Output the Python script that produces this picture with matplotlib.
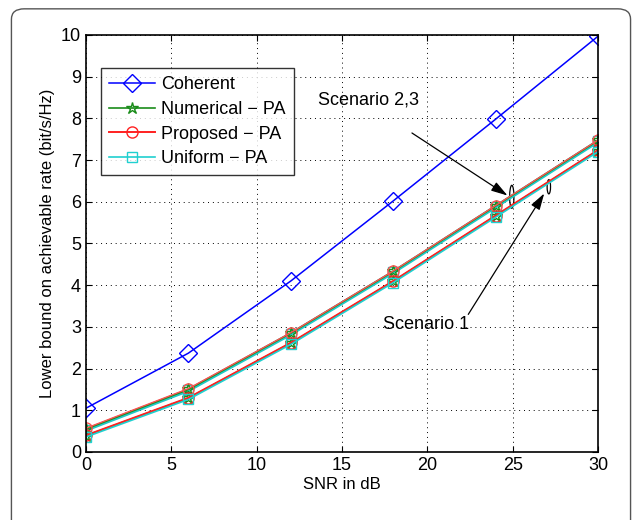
import matplotlib.pyplot as plt
from matplotlib.patches import Ellipse, FancyBboxPatch

plt.rcParams['font.family'] = ['Liberation Sans', 'DejaVu Sans']

snr = [0, 6, 12, 18, 24, 30]
coherent = [1.05, 2.37, 4.10, 6.02, 7.98, 9.97]

# Scenario 2,3 (upper group)
num_s23 = [0.55, 1.50, 2.85, 4.33, 5.90, 7.47]
prop_s23 = [0.57, 1.52, 2.86, 4.34, 5.91, 7.48]
unif_s23 = [0.53, 1.48, 2.83, 4.31, 5.88, 7.45]
# Scenario 1 (lower group)
num_s1 = [0.39, 1.29, 2.61, 4.09, 5.66, 7.23]
prop_s1 = [0.40, 1.30, 2.62, 4.10, 5.67, 7.24]
unif_s1 = [0.36, 1.26, 2.58, 4.06, 5.63, 7.20]

fig = plt.figure(figsize=(6.35, 5.2), dpi=100)
ax = fig.add_axes([0.1354, 0.1308, 0.8063, 0.8019])

frame = FancyBboxPatch((0.018, -0.03), 0.975, 1.013, boxstyle="round,pad=0,rounding_size=0.02",
                       transform=fig.transFigure, facecolor='none', edgecolor='#555555',
                       linewidth=1.0, clip_on=False)
fig.patches.append(frame)

ax.plot(snr, coherent, color='blue', marker='D', markersize=9, markerfacecolor='none',
        markeredgecolor='blue', linewidth=1.1, label='Coherent')

# upper group (scenario 2,3)
ax.plot(snr, unif_s23, color='#20c8c8', marker='s', markersize=7, markerfacecolor='none',
        linewidth=2.6)
ax.plot(snr, num_s23, color='#1a8c1a', marker='*', markersize=9, markerfacecolor='none',
        linewidth=1.2)
ax.plot(snr, prop_s23, color='#ff5050', marker='o', markersize=8, markerfacecolor='none',
        linewidth=1.0)

# lower group (scenario 1)
ax.plot(snr, num_s1, color='#1a8c1a', marker='*', markersize=9, markerfacecolor='none',
        linewidth=1.2, label='Numerical \u2212 PA')
ax.plot(snr, prop_s1, color='#ff2020', marker='o', markersize=8, markerfacecolor='none',
        linewidth=1.4, label='Proposed \u2212 PA')
ax.plot(snr, unif_s1, color='#20d0d0', marker='s', markersize=7, markerfacecolor='none',
        linewidth=1.2, label='Uniform \u2212 PA')

ax.set_xlim(0, 30)
ax.set_ylim(0, 10)
ax.set_xticks(range(0, 31, 5))
ax.set_yticks(range(0, 11))
ax.tick_params(direction='in', labelsize=13, length=4, top=True, right=True)
ax.grid(True, color='black', linestyle=(0, (1, 4)), linewidth=0.7)
for s in ax.spines.values():
    s.set_linewidth(1.2)

ax.set_xlabel('SNR in dB', fontsize=12, labelpad=2)
ax.set_ylabel('Lower bound on achievable rate (bit/s/Hz)', fontsize=12, labelpad=4)

leg = ax.legend(loc='upper left', bbox_to_anchor=(0.03, 0.92), fontsize=13, frameon=True,
                fancybox=False, edgecolor='black', handlelength=2.5, borderpad=0.45,
                labelspacing=0.42, handletextpad=0.35, borderaxespad=0)
leg.get_frame().set_linewidth(1.0)

ax.add_patch(Ellipse((24.95, 6.12), 0.25, 0.55, facecolor='none', edgecolor='black', linewidth=0.9))
ax.add_patch(Ellipse((27.12, 6.36), 0.2, 0.34, facecolor='none', edgecolor='black', linewidth=0.9))

arrow = dict(arrowstyle='-|>,head_length=1.0,head_width=0.3', color='black', linewidth=0.9,
             shrinkA=0, shrinkB=0)
ax.annotate('', xy=(24.7, 6.15), xytext=(19.1, 7.65), arrowprops=arrow)
ax.annotate('', xy=(26.85, 6.2), xytext=(22.4, 3.3), arrowprops=arrow)
ax.text(13.6, 8.45, 'Scenario 2,3', fontsize=13, va='center')
ax.text(17.4, 3.05, 'Scenario 1', fontsize=13, va='center')

fig.savefig('out.png', dpi=100)
